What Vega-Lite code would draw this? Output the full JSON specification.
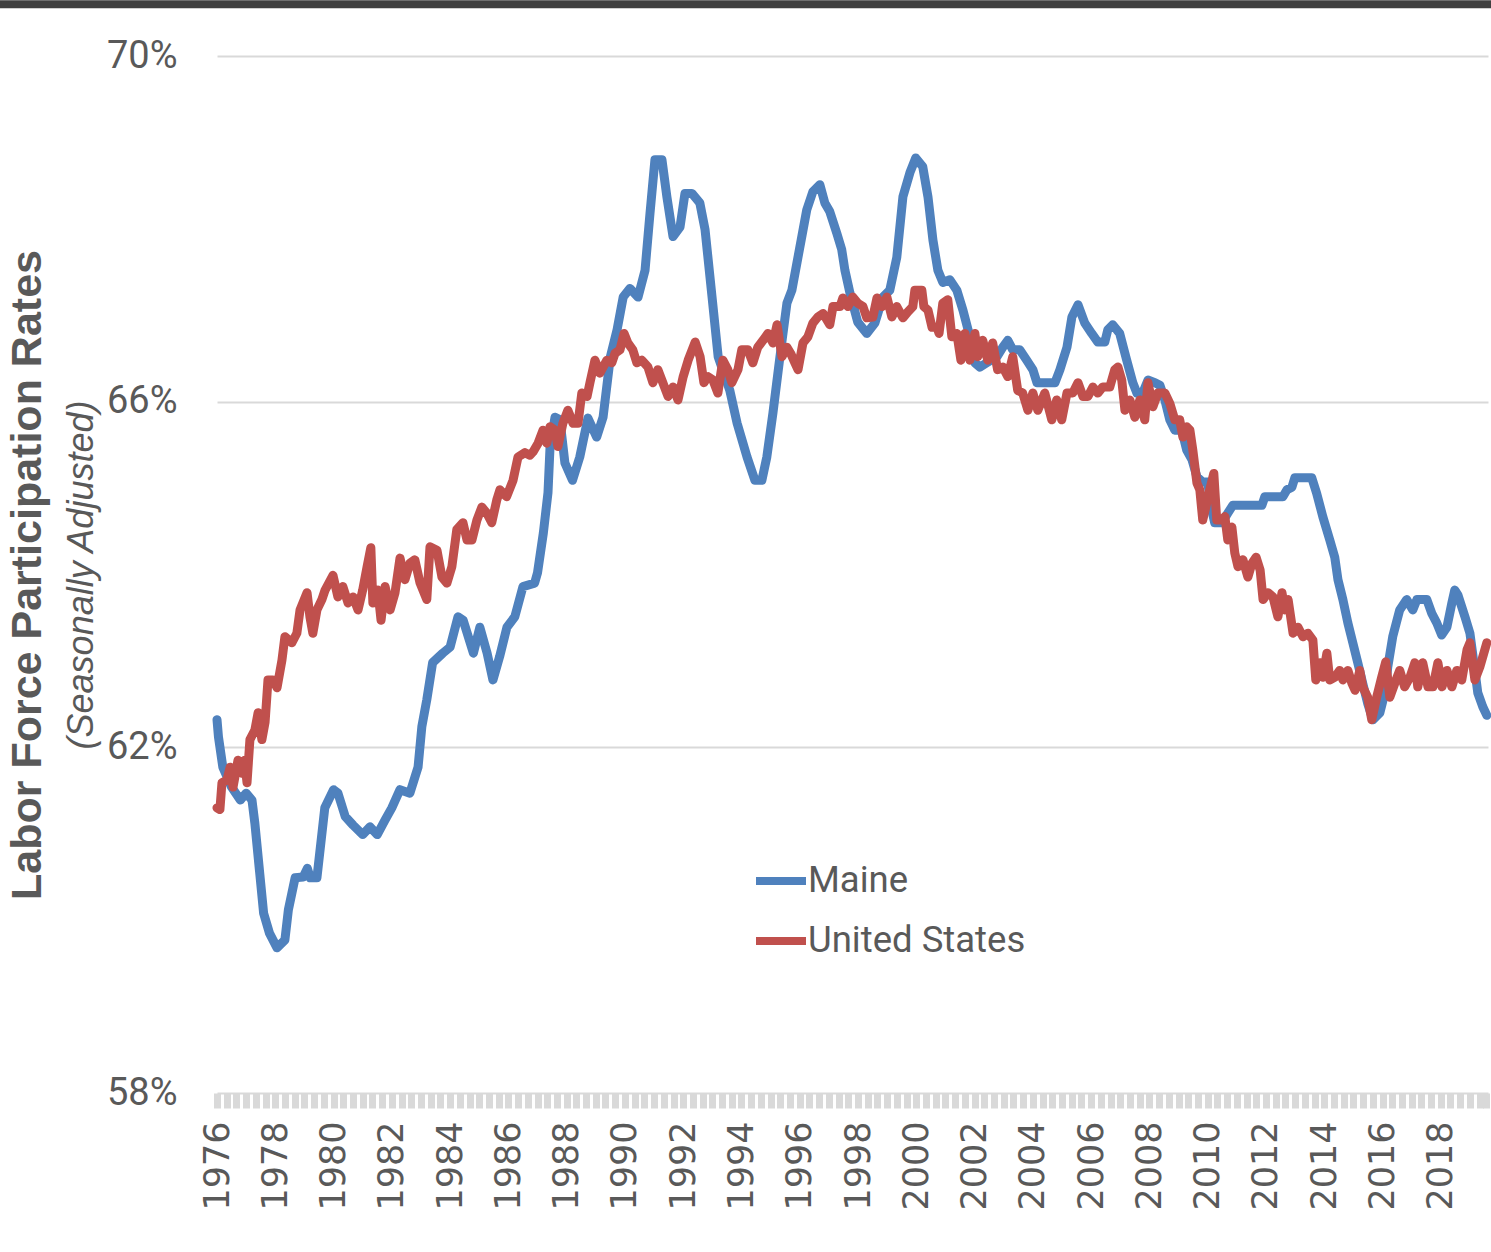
{
  "$schema": "https://vega.github.io/schema/vega-lite/v6.json",
  "width": 1271,
  "height": 1037,
  "autosize": {"type": "none"},
  "padding": {"left": 217, "top": 56, "right": 3, "bottom": 159},
  "background": "white",
  "config": {"view": {"stroke": null}, "axis": {"labelOverlap": false}},
  "datasets": {
    "maine": [
      {"t":1976.0,"v":62.32},{"t":1976.05,"v":62.12},{"t":1976.2,"v":61.77},{"t":1976.5,"v":61.54},{"t":1976.8,"v":61.39},{"t":1977.0,"v":61.47},{"t":1977.2,"v":61.39},{"t":1977.3,"v":61.12},{"t":1977.6,"v":60.08},{"t":1977.8,"v":59.85},{"t":1978.06,"v":59.68},{"t":1978.33,"v":59.77},{"t":1978.45,"v":60.12},{"t":1978.68,"v":60.49},{"t":1978.96,"v":60.5},{"t":1979.1,"v":60.6},{"t":1979.2,"v":60.49},{"t":1979.43,"v":60.49},{"t":1979.7,"v":61.3},{"t":1980.0,"v":61.51},{"t":1980.15,"v":61.47},{"t":1980.4,"v":61.2},{"t":1980.67,"v":61.1},{"t":1981.0,"v":60.99},{"t":1981.25,"v":61.08},{"t":1981.5,"v":60.99},{"t":1981.77,"v":61.16},{"t":1982.0,"v":61.3},{"t":1982.28,"v":61.51},{"t":1982.62,"v":61.47},{"t":1982.9,"v":61.77},{"t":1983.03,"v":62.24},{"t":1983.2,"v":62.55},{"t":1983.4,"v":62.98},{"t":1983.75,"v":63.09},{"t":1984.0,"v":63.16},{"t":1984.27,"v":63.51},{"t":1984.45,"v":63.47},{"t":1984.8,"v":63.09},{"t":1985.02,"v":63.39},{"t":1985.27,"v":63.09},{"t":1985.47,"v":62.78},{"t":1985.7,"v":63.05},{"t":1985.95,"v":63.39},{"t":1986.22,"v":63.51},{"t":1986.5,"v":63.86},{"t":1986.9,"v":63.9},{"t":1987.0,"v":64.02},{"t":1987.2,"v":64.48},{"t":1987.36,"v":64.95},{"t":1987.43,"v":65.48},{"t":1987.6,"v":65.82},{"t":1987.77,"v":65.79},{"t":1987.94,"v":65.29},{"t":1988.2,"v":65.09},{"t":1988.45,"v":65.36},{"t":1988.73,"v":65.81},{"t":1989.03,"v":65.59},{"t":1989.25,"v":65.82},{"t":1989.5,"v":66.52},{"t":1989.73,"v":66.83},{"t":1989.94,"v":67.21},{"t":1990.17,"v":67.31},{"t":1990.45,"v":67.21},{"t":1990.69,"v":67.52},{"t":1990.86,"v":68.18},{"t":1991.03,"v":68.8},{"t":1991.27,"v":68.8},{"t":1991.44,"v":68.37},{"t":1991.65,"v":67.91},{"t":1991.89,"v":68.02},{"t":1992.06,"v":68.41},{"t":1992.3,"v":68.41},{"t":1992.57,"v":68.3},{"t":1992.75,"v":67.99},{"t":1992.99,"v":67.21},{"t":1993.2,"v":66.52},{"t":1993.6,"v":66.13},{"t":1993.85,"v":65.75},{"t":1994.19,"v":65.36},{"t":1994.46,"v":65.09},{"t":1994.7,"v":65.09},{"t":1994.87,"v":65.36},{"t":1995.08,"v":65.87},{"t":1995.32,"v":66.52},{"t":1995.56,"v":67.14},{"t":1995.73,"v":67.29},{"t":1995.9,"v":67.6},{"t":1996.07,"v":67.91},{"t":1996.24,"v":68.22},{"t":1996.45,"v":68.43},{"t":1996.69,"v":68.51},{"t":1996.86,"v":68.3},{"t":1997.03,"v":68.2},{"t":1997.27,"v":67.95},{"t":1997.44,"v":67.76},{"t":1997.55,"v":67.52},{"t":1997.72,"v":67.26},{"t":1997.99,"v":66.92},{"t":1998.3,"v":66.79},{"t":1998.58,"v":66.91},{"t":1998.85,"v":67.21},{"t":1999.09,"v":67.29},{"t":1999.33,"v":67.67},{"t":1999.54,"v":68.37},{"t":1999.78,"v":68.65},{"t":1999.98,"v":68.82},{"t":2000.22,"v":68.72},{"t":2000.4,"v":68.37},{"t":2000.57,"v":67.87},{"t":2000.74,"v":67.52},{"t":2000.91,"v":67.38},{"t":2001.15,"v":67.41},{"t":2001.39,"v":67.29},{"t":2001.6,"v":67.06},{"t":2001.84,"v":66.75},{"t":2002.01,"v":66.45},{"t":2002.18,"v":66.4},{"t":2002.42,"v":66.45},{"t":2002.77,"v":66.52},{"t":2002.97,"v":66.63},{"t":2003.14,"v":66.71},{"t":2003.31,"v":66.6},{"t":2003.55,"v":66.6},{"t":2003.79,"v":66.48},{"t":2004.0,"v":66.37},{"t":2004.14,"v":66.22},{"t":2004.48,"v":66.22},{"t":2004.76,"v":66.22},{"t":2004.93,"v":66.37},{"t":2005.17,"v":66.63},{"t":2005.34,"v":66.98},{"t":2005.55,"v":67.12},{"t":2005.78,"v":66.91},{"t":2006.02,"v":66.79},{"t":2006.23,"v":66.69},{"t":2006.47,"v":66.69},{"t":2006.57,"v":66.83},{"t":2006.74,"v":66.89},{"t":2006.98,"v":66.79},{"t":2007.22,"v":66.48},{"t":2007.43,"v":66.22},{"t":2007.57,"v":66.1},{"t":2007.77,"v":66.1},{"t":2007.95,"v":66.25},{"t":2008.19,"v":66.22},{"t":2008.36,"v":66.19},{"t":2008.53,"v":66.02},{"t":2008.7,"v":65.79},{"t":2008.87,"v":65.67},{"t":2009.11,"v":65.67},{"t":2009.28,"v":65.44},{"t":2009.46,"v":65.33},{"t":2009.63,"v":65.13},{"t":2009.83,"v":65.07},{"t":2010.0,"v":65.07},{"t":2010.14,"v":64.75},{"t":2010.24,"v":64.6},{"t":2010.49,"v":64.6},{"t":2010.69,"v":64.71},{"t":2010.86,"v":64.8},{"t":2011.45,"v":64.8},{"t":2011.86,"v":64.8},{"t":2011.96,"v":64.9},{"t":2012.58,"v":64.9},{"t":2012.72,"v":64.98},{"t":2012.89,"v":65.01},{"t":2012.99,"v":65.12},{"t":2013.16,"v":65.12},{"t":2013.57,"v":65.12},{"t":2013.74,"v":64.94},{"t":2013.95,"v":64.67},{"t":2014.19,"v":64.4},{"t":2014.36,"v":64.2},{"t":2014.47,"v":63.94},{"t":2014.64,"v":63.71},{"t":2014.81,"v":63.44},{"t":2014.98,"v":63.21},{"t":2015.15,"v":62.98},{"t":2015.32,"v":62.74},{"t":2015.49,"v":62.51},{"t":2015.67,"v":62.32},{"t":2015.91,"v":62.4},{"t":2016.08,"v":62.63},{"t":2016.18,"v":62.93},{"t":2016.35,"v":63.28},{"t":2016.59,"v":63.59},{"t":2016.83,"v":63.71},{"t":2017.04,"v":63.59},{"t":2017.18,"v":63.71},{"t":2017.52,"v":63.71},{"t":2017.69,"v":63.55},{"t":2017.86,"v":63.44},{"t":2018.03,"v":63.3},{"t":2018.21,"v":63.39},{"t":2018.38,"v":63.67},{"t":2018.48,"v":63.82},{"t":2018.59,"v":63.76},{"t":2018.83,"v":63.51},{"t":2019.0,"v":63.32},{"t":2019.17,"v":62.89},{"t":2019.27,"v":62.63},{"t":2019.44,"v":62.47},{"t":2019.58,"v":62.37}
    ],
    "us": [
      {"t":1976.0,"v":61.3},{"t":1976.1,"v":61.28},{"t":1976.17,"v":61.59},{"t":1976.34,"v":61.62},{"t":1976.45,"v":61.77},{"t":1976.55,"v":61.54},{"t":1976.72,"v":61.85},{"t":1976.86,"v":61.7},{"t":1976.95,"v":61.85},{"t":1977.03,"v":61.59},{"t":1977.13,"v":62.09},{"t":1977.3,"v":62.2},{"t":1977.41,"v":62.4},{"t":1977.54,"v":62.09},{"t":1977.65,"v":62.29},{"t":1977.75,"v":62.78},{"t":1977.92,"v":62.78},{"t":1978.06,"v":62.69},{"t":1978.23,"v":63.01},{"t":1978.33,"v":63.28},{"t":1978.57,"v":63.21},{"t":1978.74,"v":63.32},{"t":1978.85,"v":63.59},{"t":1979.09,"v":63.79},{"t":1979.19,"v":63.51},{"t":1979.29,"v":63.32},{"t":1979.43,"v":63.59},{"t":1979.6,"v":63.71},{"t":1979.71,"v":63.82},{"t":1979.98,"v":63.99},{"t":1980.15,"v":63.74},{"t":1980.32,"v":63.86},{"t":1980.5,"v":63.67},{"t":1980.67,"v":63.74},{"t":1980.84,"v":63.59},{"t":1981.0,"v":63.82},{"t":1981.15,"v":64.09},{"t":1981.28,"v":64.31},{"t":1981.35,"v":63.67},{"t":1981.52,"v":63.82},{"t":1981.63,"v":63.47},{"t":1981.77,"v":63.86},{"t":1981.94,"v":63.59},{"t":1982.11,"v":63.79},{"t":1982.28,"v":64.19},{"t":1982.45,"v":63.94},{"t":1982.62,"v":64.13},{"t":1982.79,"v":64.17},{"t":1982.97,"v":63.9},{"t":1983.2,"v":63.71},{"t":1983.31,"v":64.32},{"t":1983.55,"v":64.28},{"t":1983.72,"v":63.97},{"t":1983.89,"v":63.9},{"t":1984.06,"v":64.09},{"t":1984.23,"v":64.52},{"t":1984.44,"v":64.6},{"t":1984.58,"v":64.4},{"t":1984.75,"v":64.4},{"t":1984.92,"v":64.63},{"t":1985.09,"v":64.78},{"t":1985.26,"v":64.71},{"t":1985.43,"v":64.6},{"t":1985.6,"v":64.86},{"t":1985.71,"v":64.98},{"t":1985.94,"v":64.9},{"t":1986.16,"v":65.09},{"t":1986.33,"v":65.36},{"t":1986.57,"v":65.41},{"t":1986.74,"v":65.38},{"t":1986.85,"v":65.42},{"t":1987.02,"v":65.52},{"t":1987.19,"v":65.67},{"t":1987.32,"v":65.52},{"t":1987.43,"v":65.71},{"t":1987.6,"v":65.67},{"t":1987.7,"v":65.48},{"t":1987.87,"v":65.75},{"t":1988.04,"v":65.9},{"t":1988.22,"v":65.75},{"t":1988.39,"v":65.75},{"t":1988.52,"v":66.1},{"t":1988.7,"v":66.06},{"t":1988.8,"v":66.22},{"t":1988.97,"v":66.48},{"t":1989.14,"v":66.33},{"t":1989.38,"v":66.48},{"t":1989.55,"v":66.45},{"t":1989.66,"v":66.56},{"t":1989.83,"v":66.6},{"t":1989.97,"v":66.79},{"t":1990.1,"v":66.68},{"t":1990.27,"v":66.6},{"t":1990.41,"v":66.45},{"t":1990.58,"v":66.48},{"t":1990.79,"v":66.4},{"t":1990.96,"v":66.22},{"t":1991.13,"v":66.37},{"t":1991.3,"v":66.22},{"t":1991.48,"v":66.06},{"t":1991.65,"v":66.17},{"t":1991.82,"v":66.02},{"t":1992.0,"v":66.29},{"t":1992.17,"v":66.48},{"t":1992.41,"v":66.69},{"t":1992.58,"v":66.52},{"t":1992.71,"v":66.22},{"t":1992.85,"v":66.29},{"t":1993.02,"v":66.25},{"t":1993.19,"v":66.1},{"t":1993.36,"v":66.48},{"t":1993.53,"v":66.37},{"t":1993.67,"v":66.22},{"t":1993.88,"v":66.37},{"t":1994.01,"v":66.6},{"t":1994.22,"v":66.6},{"t":1994.39,"v":66.45},{"t":1994.56,"v":66.63},{"t":1994.74,"v":66.71},{"t":1994.91,"v":66.79},{"t":1995.08,"v":66.68},{"t":1995.22,"v":66.89},{"t":1995.39,"v":66.52},{"t":1995.56,"v":66.63},{"t":1995.7,"v":66.55},{"t":1995.83,"v":66.45},{"t":1995.94,"v":66.37},{"t":1996.11,"v":66.68},{"t":1996.28,"v":66.75},{"t":1996.45,"v":66.91},{"t":1996.62,"v":66.98},{"t":1996.8,"v":67.02},{"t":1997.03,"v":66.89},{"t":1997.14,"v":67.1},{"t":1997.38,"v":67.1},{"t":1997.48,"v":67.2},{"t":1997.65,"v":67.1},{"t":1997.82,"v":67.21},{"t":1997.99,"v":67.14},{"t":1998.17,"v":67.1},{"t":1998.3,"v":66.97},{"t":1998.51,"v":66.98},{"t":1998.65,"v":67.2},{"t":1998.82,"v":67.1},{"t":1998.99,"v":67.21},{"t":1999.16,"v":66.98},{"t":1999.33,"v":67.1},{"t":1999.54,"v":66.97},{"t":1999.71,"v":67.04},{"t":1999.88,"v":67.1},{"t":1999.95,"v":67.29},{"t":2000.19,"v":67.29},{"t":2000.26,"v":67.1},{"t":2000.4,"v":67.06},{"t":2000.54,"v":66.86},{"t":2000.71,"v":66.86},{"t":2000.78,"v":66.79},{"t":2000.91,"v":67.14},{"t":2001.08,"v":67.18},{"t":2001.22,"v":66.75},{"t":2001.39,"v":66.79},{"t":2001.53,"v":66.48},{"t":2001.67,"v":66.79},{"t":2001.84,"v":66.48},{"t":2002.01,"v":66.79},{"t":2002.11,"v":66.52},{"t":2002.28,"v":66.71},{"t":2002.45,"v":66.48},{"t":2002.62,"v":66.68},{"t":2002.79,"v":66.37},{"t":2002.97,"v":66.4},{"t":2003.14,"v":66.29},{"t":2003.31,"v":66.52},{"t":2003.48,"v":66.13},{"t":2003.65,"v":66.1},{"t":2003.83,"v":65.9},{"t":2004.0,"v":66.1},{"t":2004.17,"v":65.9},{"t":2004.41,"v":66.1},{"t":2004.65,"v":65.79},{"t":2004.82,"v":66.02},{"t":2004.99,"v":65.79},{"t":2005.17,"v":66.1},{"t":2005.37,"v":66.1},{"t":2005.55,"v":66.22},{"t":2005.72,"v":66.06},{"t":2005.89,"v":66.06},{"t":2006.06,"v":66.17},{"t":2006.23,"v":66.1},{"t":2006.4,"v":66.17},{"t":2006.64,"v":66.17},{"t":2006.81,"v":66.37},{"t":2006.92,"v":66.4},{"t":2007.05,"v":66.25},{"t":2007.16,"v":65.9},{"t":2007.33,"v":66.02},{"t":2007.5,"v":65.82},{"t":2007.67,"v":66.02},{"t":2007.84,"v":65.79},{"t":2007.95,"v":66.22},{"t":2008.12,"v":65.94},{"t":2008.29,"v":66.1},{"t":2008.53,"v":66.1},{"t":2008.7,"v":65.98},{"t":2008.87,"v":65.79},{"t":2009.04,"v":65.79},{"t":2009.15,"v":65.59},{"t":2009.28,"v":65.71},{"t":2009.39,"v":65.67},{"t":2009.49,"v":65.44},{"t":2009.63,"v":65.06},{"t":2009.73,"v":64.98},{"t":2009.83,"v":64.63},{"t":2009.97,"v":64.83},{"t":2010.07,"v":64.98},{"t":2010.21,"v":65.17},{"t":2010.31,"v":64.63},{"t":2010.49,"v":64.63},{"t":2010.59,"v":64.67},{"t":2010.69,"v":64.4},{"t":2010.83,"v":64.55},{"t":2010.93,"v":64.25},{"t":2011.04,"v":64.09},{"t":2011.21,"v":64.17},{"t":2011.38,"v":63.97},{"t":2011.52,"v":64.13},{"t":2011.66,"v":64.2},{"t":2011.8,"v":64.05},{"t":2011.9,"v":63.71},{"t":2012.07,"v":63.79},{"t":2012.24,"v":63.74},{"t":2012.41,"v":63.51},{"t":2012.55,"v":63.79},{"t":2012.65,"v":63.59},{"t":2012.76,"v":63.71},{"t":2012.93,"v":63.32},{"t":2013.1,"v":63.39},{"t":2013.27,"v":63.28},{"t":2013.44,"v":63.32},{"t":2013.61,"v":63.24},{"t":2013.71,"v":62.78},{"t":2013.85,"v":62.98},{"t":2013.95,"v":62.81},{"t":2014.09,"v":63.09},{"t":2014.19,"v":62.78},{"t":2014.36,"v":62.81},{"t":2014.53,"v":62.89},{"t":2014.64,"v":62.78},{"t":2014.81,"v":62.89},{"t":2014.95,"v":62.74},{"t":2015.06,"v":62.66},{"t":2015.22,"v":62.89},{"t":2015.32,"v":62.7},{"t":2015.49,"v":62.58},{"t":2015.63,"v":62.32},{"t":2015.8,"v":62.58},{"t":2015.97,"v":62.81},{"t":2016.11,"v":62.99},{"t":2016.25,"v":62.58},{"t":2016.42,"v":62.74},{"t":2016.59,"v":62.89},{"t":2016.76,"v":62.7},{"t":2016.94,"v":62.81},{"t":2017.11,"v":62.98},{"t":2017.21,"v":62.7},{"t":2017.38,"v":62.98},{"t":2017.56,"v":62.7},{"t":2017.73,"v":62.7},{"t":2017.9,"v":62.98},{"t":2018.04,"v":62.7},{"t":2018.21,"v":62.89},{"t":2018.38,"v":62.7},{"t":2018.55,"v":62.89},{"t":2018.72,"v":62.78},{"t":2018.9,"v":63.13},{"t":2019.0,"v":63.21},{"t":2019.17,"v":62.78},{"t":2019.34,"v":62.93},{"t":2019.58,"v":63.21}
    ]
  },
  "layer": [
    {
      "data": {"values": [{"band": "top"}]},
      "mark": {"type": "rule", "color": "#404040", "strokeWidth": 8, "clip": false},
      "encoding": {
        "x": {"datum": 1960, "type": "quantitative", "scale": {"domain": [1976, 2019.62], "nice": false, "zero": false}, "axis": null},
        "x2": {"datum": 2030},
        "y": {"datum": 70.6, "type": "quantitative", "scale": {"domain": [58, 70], "nice": false, "zero": false}, "axis": null}
      }
    },
    {
      "data": {"name": "maine"},
      "mark": {"type": "line", "strokeWidth": 9, "strokeCap": "round", "strokeJoin": "round"},
      "encoding": {
        "x": {
          "field": "t", "type": "quantitative",
          "scale": {"domain": [1976, 2019.62], "nice": false, "zero": false},
          "axis": {
            "orient": "bottom", "title": null, "values": [1976,1978,1980,1982,1984,1986,1988,1990,1992,1994,1996,1998,2000,2002,2004,2006,2008,2010,2012,2014,2016,2018],
            "format": "d", "labelAngle": -90, "labelFont": "DejaVu Sans", "labelFontSize": 35, "labelColor": "#595959",
            "labelPadding": 28, "labelFlush": false, "labelBound": false, "ticks": false, "domain": false, "grid": false
          }
        },
        "y": {
          "field": "v", "type": "quantitative",
          "scale": {"domain": [58, 70], "nice": false, "zero": false},
          "axis": {
            "orient": "left", "values": [58, 62, 66, 70], "labelExpr": "datum.value + '%'",
            "labelFont": "Roboto", "labelFontSize": 38, "labelColor": "#595959", "labelPadding": 40,
            "ticks": false, "domain": false, "grid": true, "gridColor": "#d9d9d9", "gridWidth": 2,
            "title": "(Seasonally  Adjusted)", "titleFont": "Liberation Sans", "titleFontStyle": "italic", "titleFontWeight": "normal",
            "titleFontSize": 36, "titleColor": "#595959", "titlePadding": 6
          }
        },
        "color": {
          "datum": "Maine", "type": "nominal",
          "scale": {"domain": ["Maine", "United States"], "range": ["#4F81BD", "#C0504D"]},
          "legend": {
            "orient": "none", "legendX": 535, "legendY": 796, "title": null, "symbolType": "stroke", "symbolSize": 2500,
            "symbolStrokeWidth": 8, "labelFont": "Roboto", "labelFontSize": 36.5, "labelColor": "#595959",
            "labelOffset": -2, "rowPadding": 12, "labelLimit": 500
          }
        }
      }
    },
    {
      "data": {"name": "us"},
      "mark": {"type": "line", "strokeWidth": 9, "strokeCap": "round", "strokeJoin": "round"},
      "encoding": {
        "x": {
          "field": "t", "type": "quantitative",
          "scale": {"domain": [1976, 2019.62], "nice": false, "zero": false},
          "axis": {
            "orient": "bottom", "title": null, "labels": false, "domain": false, "grid": false,
            "ticks": true, "tickColor": "#d9d9d9", "tickWidth": 7, "tickSize": 15,
            "values": [1976,1976.333,1976.667,1977,1977.333,1977.667,1978,1978.333,1978.667,1979,1979.333,1979.667,1980,1980.333,1980.667,1981,1981.333,1981.667,1982,1982.333,1982.667,1983,1983.333,1983.667,1984,1984.333,1984.667,1985,1985.333,1985.667,1986,1986.333,1986.667,1987,1987.333,1987.667,1988,1988.333,1988.667,1989,1989.333,1989.667,1990,1990.333,1990.667,1991,1991.333,1991.667,1992,1992.333,1992.667,1993,1993.333,1993.667,1994,1994.333,1994.667,1995,1995.333,1995.667,1996,1996.333,1996.667,1997,1997.333,1997.667,1998,1998.333,1998.667,1999,1999.333,1999.667,2000,2000.333,2000.667,2001,2001.333,2001.667,2002,2002.333,2002.667,2003,2003.333,2003.667,2004,2004.333,2004.667,2005,2005.333,2005.667,2006,2006.333,2006.667,2007,2007.333,2007.667,2008,2008.333,2008.667,2009,2009.333,2009.667,2010,2010.333,2010.667,2011,2011.333,2011.667,2012,2012.333,2012.667,2013,2013.333,2013.667,2014,2014.333,2014.667,2015,2015.333,2015.667,2016,2016.333,2016.667,2017,2017.333,2017.667,2018,2018.333,2018.667,2019,2019.333,2019.55]
          }
        },
        "y": {
          "field": "v", "type": "quantitative",
          "scale": {"domain": [58, 70], "nice": false, "zero": false},
          "axis": {
            "orient": "left", "labels": false, "ticks": false, "domain": false, "grid": false,
            "title": "Labor Force Participation Rates", "titleFont": "Liberation Sans", "titleFontWeight": "bold",
            "titleFontSize": 43, "titleColor": "#595959", "titlePadding": 168
          }
        },
        "color": {"datum": "United States", "type": "nominal"}
      }
    }
  ],
  "resolve": {"axis": {"x": "independent", "y": "independent"}}
}
